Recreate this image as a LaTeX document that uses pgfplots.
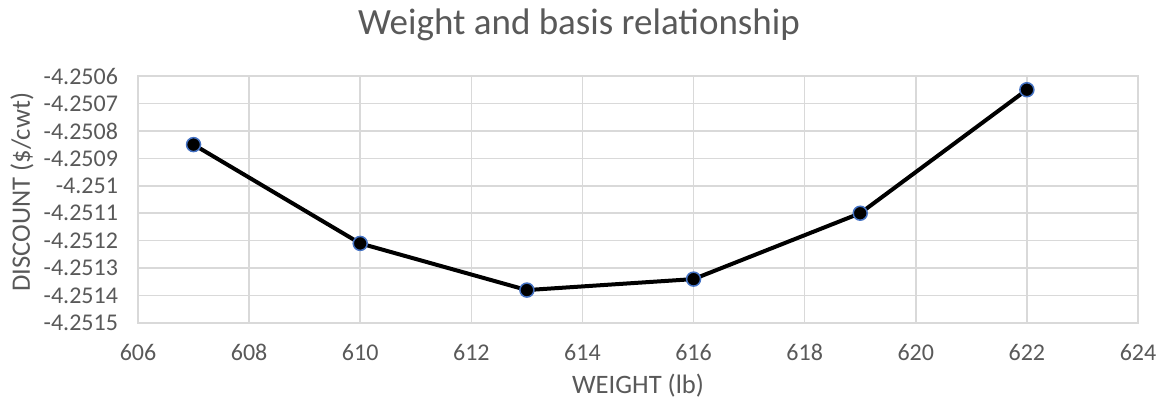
\documentclass[border=0pt]{standalone}
\usepackage{pgfplots}
\pgfplotsset{compat=1.18}
\usepackage{fontspec}
\setmainfont{Carlito}
\definecolor{txt}{HTML}{595959}
\definecolor{grd}{HTML}{D9D9D9}
\definecolor{mk}{HTML}{4472C4}
\begin{document}
\begin{tikzpicture}
\useasboundingbox (-69pt,-40.5pt) rectangle (510.5pt,161.5pt);
\begin{axis}[
  scale only axis, width=500pt, height=123.5pt,
  xmin=606, xmax=624, xtick={606,608,610,612,614,616,618,620,622,624},
  ymin=-4.2515, ymax=-4.2506,
  ytick={-4.2515,-4.2514,-4.2513,-4.2512,-4.2511,-4.251,-4.2509,-4.2508,-4.2507,-4.2506},
  yticklabels={-4.2515,-4.2514,-4.2513,-4.2512,-4.2511,-4.251,-4.2509,-4.2508,-4.2507,-4.2506},
  y coord trafo/.code={\pgfmathfloatparsenumber{#1}\pgfmathfloattosci{\pgfmathresult}\edef\pgfmathresult{\fpeval{(\pgfmathresult+4.25)*10000}}},
  grid=major, major grid style={grd, line width=0.75pt},
  axis line style={grd, line width=0.75pt},
  major tick length=0pt,
  tick label style={font=\fontsize{12}{14}\selectfont, text=txt},
  /pgf/number format/assume math mode=true,
  /pgf/number format/1000 sep={},
  xticklabel style={yshift=-7pt},
  yticklabel style={xshift=-6.5pt},
  xlabel={WEIGHT (lb)}, ylabel={DISCOUNT (\$/cwt)},
  label style={font=\fontsize{13.3}{16}\selectfont, text=txt},
  xlabel style={at={(axis description cs:0.5,-0.255)}, anchor=center},
  ylabel style={at={(axis description cs:-0.116,0.53)}, anchor=center},
  title={Weight and basis relationship},
  title style={font=\fontsize{18.5}{22}\selectfont, text=txt, at={(axis description cs:0.441,1.158)}, anchor=center},
  clip=false,
]
\addplot[black, line width=2pt, mark=*, mark size=3.5pt, mark options={fill=black, draw=mk, line width=0.75pt}] coordinates {
(607,-4.25085) (610,-4.25121) (613,-4.25138) (616,-4.25134) (619,-4.25110) (622,-4.25065)
};
\end{axis}
\end{tikzpicture}
\end{document}
